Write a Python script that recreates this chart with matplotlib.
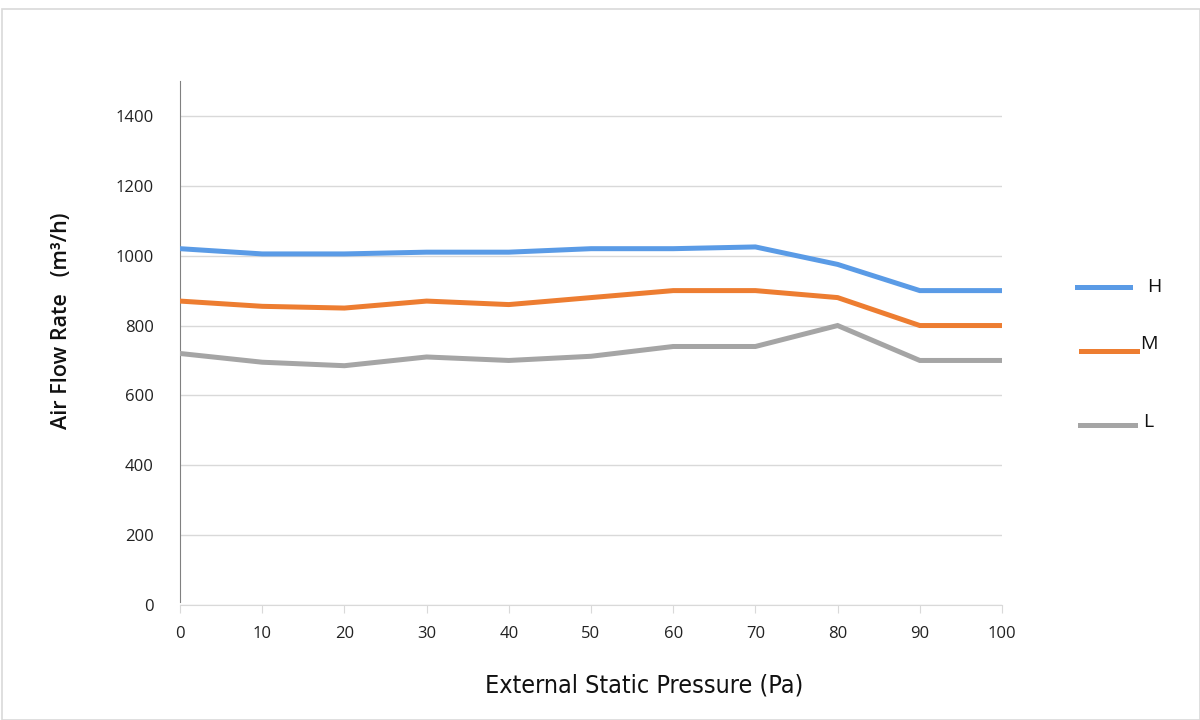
import matplotlib
matplotlib.use("Agg")
import matplotlib.pyplot as plt
from matplotlib.lines import Line2D
from matplotlib.patches import Rectangle

pressure = [0, 10, 20, 30, 40, 50, 60, 70, 80, 90, 100]
flow_H = [1020, 1005, 1005, 1010, 1010, 1020, 1020, 1025, 975, 900, 900]
flow_M = [870, 855, 850, 870, 860, 880, 900, 900, 880, 800, 800]
flow_L = [720, 695, 685, 710, 700, 712, 740, 740, 800, 700, 700]
series_names = ["H", "M", "L"]
colors = ["#5A9BE6", "#ED7D31", "#A5A5A5"]
y_ticks = [0, 200, 400, 600, 800, 1000, 1200, 1400]

plt.rcParams['font.family'] = ['Open Sans', 'DejaVu Sans']

fig = plt.figure(figsize=(12, 7.2), dpi=100)
fig.patch.set_facecolor("white")
fig.add_artist(Rectangle((2/1200, 0), 1 - 2/1200, 1 - 9/720, transform=fig.transFigure,
                         fill=False, edgecolor="#D9D9D9", linewidth=1.2))

ax = fig.add_axes([180/1200, 1 - 605/720, (1002 - 180)/1200, (605 - 81)/720])
for ys, c in zip([flow_H, flow_M, flow_L], colors):
    ax.plot(pressure, ys, color=c, linewidth=3.6, solid_joinstyle="miter", zorder=3)

ax.set_xlim(0, 100)
ax.set_ylim(0, 1500)
ax.set_yticks(y_ticks)
ax.set_xticks(pressure)
ax.grid(axis="y", color="#D9D9D9", linewidth=1)
ax.set_axisbelow(True)
for s in ["top", "right"]:
    ax.spines[s].set_visible(False)
ax.spines["left"].set_color("#808080")
ax.spines["bottom"].set_color("#D9D9D9")
ax.spines["left"].set_bounds(8, 1500)
ax.tick_params(axis="y", length=0, pad=19, labelsize=12, labelcolor="#222222")
ax.tick_params(axis="x", length=6, color="#D9D9D9", pad=9, labelsize=12, labelcolor="#222222")

ax.set_ylabel("Air Flow Rate   (m³/h)", fontsize=15.5, fontweight="semibold", color="#111111",
              va="center")
ax.yaxis.set_label_coords((62 - 180) / 822, (605 - 321) / 524)
fig.text(644/1200, 1 - 685/720, "External Static Pressure (Pa)", ha="center", va="center",
         fontsize=18, family=['DejaVu Sans'], stretch="condensed", color="#111111")

# legend drawn manually
leg = [((1077, 1130), 287, 1147, 287), ((1081, 1137), 351, 1140, 344), ((1080, 1135), 425, 1143, 422)]
for (xr, ly, tx, ty), name, c in zip(leg, series_names, colors):
    fig.add_artist(Line2D([xr[0]/1200, xr[1]/1200], [1 - ly/720, 1 - ly/720],
                          transform=fig.transFigure, color=c, linewidth=3.6))
    fig.text(tx/1200, 1 - ty/720, name, ha="left", va="center", fontsize=14, color="#111111")

fig.savefig("out.png", dpi=100, facecolor="white")
